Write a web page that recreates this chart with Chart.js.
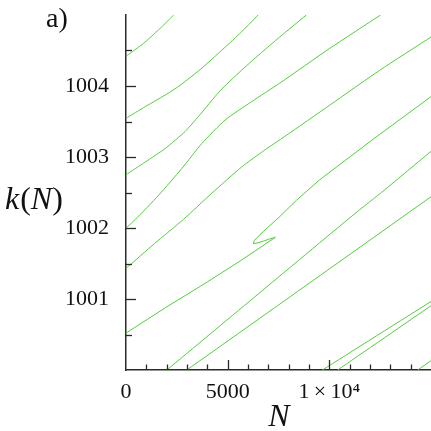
<!DOCTYPE html>
<html>
<head>
<meta charset="utf-8">
<script src="https://cdn.jsdelivr.net/npm/chart.js@4/dist/chart.umd.min.js"></script>
<style>
html,body{margin:0;padding:0;background:#fff;}
#wrap{width:431px;height:431px;position:relative;}
</style>
</head>
<body>
<div id="wrap"><canvas id="c" width="431" height="431"></canvas></div>
<script>
// ---- data (N, k) ----
const branchA = [[0,1004.42],[860,1004.60],[1600,1004.79],[2350,1005.0]];
const branchB = [[0,1003.545],[950,1003.71],[2090,1003.90],[2660,1004.01],[3640,1004.23],[4620,1004.48],[5600,1004.74],[6500,1005.0]];
const branchC = [[0,1002.75],[950,1002.93],[1930,1003.12],[2910,1003.36],[3560,1003.57],[4620,1003.93],[5600,1004.2],[6580,1004.45],[7560,1004.69],[8870,1005.0]];
const branchD = [[0,1002.0],[460,1002.12],[1600,1002.46],[2750,1002.84],[3730,1003.19],[4870,1003.52],[6180,1003.78],[7560,1004.04],[10020,1004.53],[12520,1005.0]];
const branchE = [[0,1001.43],[1400,1001.78],[2820,1002.12],[4220,1002.49],[5690,1002.86],[6830,1003.10],[7810,1003.29],[10020,1003.73],[12470,1004.22],[15000,1004.69]];
const branchF = [[0,1000.52],[2010,1000.89],[4000,1001.24],[5690,1001.55],[7350,1001.87],[7000,1001.84],[6700,1001.81],[6400,1001.785],[6260,1001.78],[6300,1001.82],[6450,1001.865],[6750,1001.95],[7560,1002.16],[8380,1002.39],[9530,1002.68],[12200,1003.26],[15000,1003.85]];
const branchG = [[2010,1000],[6500,1001.07],[11160,1002.18],[12710,1002.535],[15000,1003.08]];
const branchH = [[2990,1000],[9000,1001.22],[15000,1002.44]];
const branchI = [[9660,1000],[15000,1000.965]];
const branchJ = [[10410,1000],[15000,1000.905]];
const branchK = [[14340,1000],[15000,1000.13]];

const xMin = 0, xMax = 15000, xStep = 1000, xMajor = 5000;
const yMin = 1000, yMax = 1005, yStep = 0.5;
const xLabelMap = {0:'0', 5000:'5000', 10000:'1\u2009×\u200910⁴'};

const branches = [branchA, branchB, branchC, branchD, branchE, branchF, branchG, branchH, branchI, branchJ, branchK];
const green = 'rgb(84,204,62)';
const datasets = branches.map((b) => ({
  data: b.map(p => ({x: p[0], y: p[1]})),
  showLine: true,
  borderColor: green,
  borderWidth: 1,
  pointRadius: 0,
  tension: (b === branchF) ? 0 : 0.2,
  fill: false
}));

const FAMILY = '"Liberation Serif", "Times New Roman", serif';
const axisColor = '#2a2a2a';

function zeroPad(s) { s.paddingTop = 0; s.paddingBottom = 0; s.paddingLeft = 0; s.paddingRight = 0; }

const inwardTicks = {
  id: 'inwardTicks',
  afterDatasetsDraw(chart) {
    const ctx = chart.ctx, a = chart.chartArea;
    const xs = chart.scales.x, ys = chart.scales.y;
    ctx.save();
    ctx.strokeStyle = axisColor;
    ctx.lineWidth = 1.3;
    xs.ticks.forEach(t => {
      const v = t.value;
      if (v <= xMin || v >= xMax) return;
      const px = Math.round(xs.getPixelForValue(v)) + 0.5;
      const len = (v % xMajor === 0) ? 10 : 5.5;
      ctx.beginPath(); ctx.moveTo(px, a.bottom); ctx.lineTo(px, a.bottom - len); ctx.stroke();
    });
    ys.ticks.forEach(t => {
      const v = t.value;
      if (v <= yMin || v >= yMax) return;
      const py = Math.round(ys.getPixelForValue(v)) + 0.5;
      const len = Number.isInteger(v) ? 10 : 6;
      ctx.beginPath(); ctx.moveTo(a.left, py); ctx.lineTo(a.left + len, py); ctx.stroke();
    });
    ctx.restore();
  },
  afterDraw(chart) {
    const ctx = chart.ctx;
    ctx.save();
    ctx.fillStyle = '#111';
    ctx.textBaseline = 'alphabetic';
    ctx.font = '28px ' + FAMILY;
    ctx.textAlign = 'left';
    ctx.fillText('a)', 46, 27);
    ctx.font = 'italic 32px ' + FAMILY;
    ctx.textAlign = 'center';
    ctx.fillText('N', 279, 426);
    const parts = [['k', true], ['(', false], ['N', true], [')', false]];
    let x = 5;
    parts.forEach(([s, it]) => {
      ctx.font = (it ? 'italic ' : '') + '32px ' + FAMILY;
      ctx.textAlign = 'left';
      ctx.fillText(s, x, 209);
      x += ctx.measureText(s).width + (s === 'k' ? 1 : 0);
    });
    ctx.restore();
  }
};

new Chart(document.getElementById('c'), {
  type: 'scatter',
  data: { datasets },
  options: {
    responsive: false,
    animation: false,
    layout: { padding: { top: 15, right: 0, left: 0, bottom: 0 } },
    plugins: { legend: { display: false }, tooltip: { enabled: false } },
    scales: {
      x: {
        type: 'linear', min: xMin, max: xMax,
        grid: { display: false },
        border: { display: true, color: axisColor, width: 1.5 },
        ticks: {
          stepSize: xStep, autoSkip: false, maxRotation: 0, minRotation: 0,
          color: '#111', padding: 1,
          font: { family: FAMILY, size: 22 },
          callback: v => (xLabelMap[v] !== undefined ? xLabelMap[v] : '')
        },
        afterFit: s => { s.height = 61; zeroPad(s); }
      },
      y: {
        type: 'linear', min: yMin, max: yMax,
        grid: { display: false },
        border: { display: true, color: axisColor, width: 1.5 },
        ticks: {
          stepSize: yStep, autoSkip: false,
          color: '#111', padding: 9,
          font: { family: FAMILY, size: 22 },
          callback: v => (Number.isInteger(v) && v > yMin && v < yMax ? String(v) : '')
        },
        afterFit: s => { s.width = 126; zeroPad(s); }
      }
    }
  },
  plugins: [inwardTicks]
});
</script>
</body>
</html>
